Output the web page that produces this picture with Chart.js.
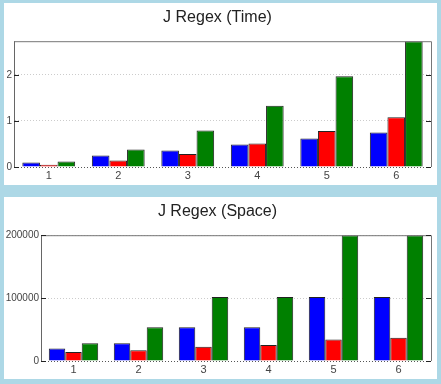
<!DOCTYPE html>
<html>
<head>
<meta charset="utf-8">
<script src="https://cdn.jsdelivr.net/npm/chart.js@4.4.0/dist/chart.umd.min.js"></script>
<style>
  html, body { margin: 0; padding: 0; background: #add8e6; width: 441px; height: 384px; overflow: hidden; }
  .panel { position: absolute; left: 4px; width: 433px; height: 182px; background: #fff; }
  #p1 { top: 3px; }
  #p2 { top: 197px; }
</style>
</head>
<body>
<div class="panel" id="p1"><canvas id="timeChart" width="433" height="182"></canvas></div>
<div class="panel" id="p2"><canvas id="spaceChart" width="433" height="182"></canvas></div>
<script>
var labels = ['1', '2', '3', '4', '5', '6'];

var timeBlue  = [0.10, 0.25, 0.36, 0.49, 0.62, 0.75];
var timeRed   = [0.05, 0.14, 0.28, 0.51, 0.78, 1.08];
var timeGreen = [0.12, 0.38, 0.79, 1.33, 1.97, 2.73];

var spaceBlue  = [20000, 28400, 53700, 53700, 101600, 101600];
var spaceRed   = [14200, 16900, 22600, 25300, 34200, 36900];
var spaceGreen = [28400, 53700, 101600, 101600, 200000, 200000];

// draws top/right frame and the little inward tick marks
var framePlugin = {
    id: 'frame',
    afterDraw: function(chart){
        var ctx = chart.ctx;
        var a = chart.chartArea;
        var y = chart.scales.y;
        ctx.save();
        ctx.strokeStyle = '#777';
        ctx.lineWidth = 1;
        ctx.beginPath();
        ctx.moveTo(a.left, a.top + 0.5);
        ctx.lineTo(a.right + 0.5, a.top + 0.5);
        ctx.lineTo(a.right + 0.5, a.bottom);
        ctx.stroke();
        ctx.strokeStyle = '#222';
        y.ticks.forEach(function(t){
            var py = Math.round(y.getPixelForValue(t.value)) + 0.5;
            ctx.beginPath();
            ctx.moveTo(a.left, py);
            ctx.lineTo(a.left + 5, py);
            ctx.moveTo(a.right, py);
            ctx.lineTo(a.right - 5, py);
            ctx.stroke();
        });
        ctx.restore();
    }
};

function makeChart(id, title, blue, red, green, yMax, yStep, axisWidth){
    var ctx = document.getElementById(id).getContext('2d');
    return new Chart(ctx, {
        type: 'bar',
        data: {
            labels: labels,
            datasets: [{
                data: blue,
                backgroundColor: '#0000ff',
                borderColor: '#222',
                borderWidth: 1
            },
            {
                data: red,
                backgroundColor: '#ff0000',
                borderColor: '#222',
                borderWidth: 1
            },
            {
                data: green,
                backgroundColor: '#008000',
                borderColor: '#222',
                borderWidth: 1
            }]
        },
        options: {
            responsive: false,
            animation: false,
            events: [],
            layout: { padding: { left: 0, right: 6, top: 0, bottom: 0 } },
            datasets: { bar: { categoryPercentage: 0.76, barPercentage: 1 } },
            plugins: {
                legend: { display: false },
                tooltip: { enabled: false },
                title: {
                    display: true,
                    text: title,
                    color: '#222',
                    font: { family: 'Liberation Sans, Arial, sans-serif', size: 16, weight: 'normal' },
                    padding: { top: 5, bottom: 14 }
                }
            },
            scales: {
                x: {
                    grid: { display: false, drawTicks: false },
                    border: { display: false },
                    ticks: {
                        color: '#444',
                        padding: 2,
                        font: { family: 'Liberation Sans, Arial, sans-serif', size: 11 }
                    },
                    afterFit: function(s){ s.height = 18; }
                },
                y: {
                    min: 0,
                    max: yMax,
                    border: { color: '#666', width: 1, dash: [1, 2] },
                    grid: {
                        drawTicks: false,
                        color: function(c){ return c.tick && c.tick.value === 0 ? '#555' : '#ccc'; }
                    },
                    ticks: {
                        stepSize: yStep,
                        includeBounds: false,
                        color: '#444',
                        padding: 2,
                        font: { family: 'Liberation Sans, Arial, sans-serif', size: 10 },
                        callback: function(v){ return String(v); }
                    },
                    afterFit: function(s){ s.width = axisWidth; }
                }
            }
        },
        plugins: [framePlugin]
    });
}

makeChart('timeChart', 'J Regex (Time)', timeBlue, timeRed, timeGreen, 2.73, 1, 10);
makeChart('spaceChart', 'J Regex (Space)', spaceBlue, spaceRed, spaceGreen, 200000, 100000, 37);
</script>
</body>
</html>
